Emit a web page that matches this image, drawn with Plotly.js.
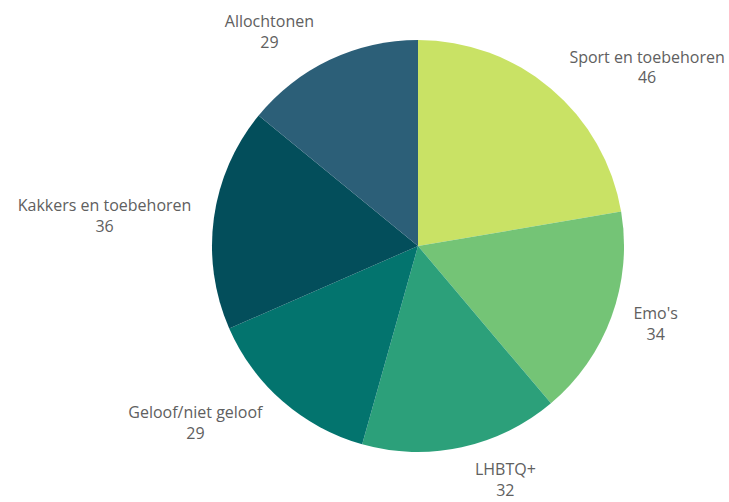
<!DOCTYPE html>
<html><head><meta charset="utf-8">
<script src="https://cdn.plot.ly/plotly-3.0.1.min.js"></script>
<style>html,body{margin:0;padding:0;background:#fff}</style>
</head><body>
<div id="chart" style="width:729px;height:502px"></div>
<script>
const categories = ["Sport en toebehoren", "Emo's", "LHBTQ+", "Geloof/niet geloof", "Kakkers en toebehoren", "Allochtonen"];
const values = [46, 34, 32, 29, 36, 29];
const colors = ["#c9e265", "#74c476", "#2ca07a", "#03746e", "#034e5b", "#2c5f78"];

const common = {
  type: "pie",
  labels: categories,
  values: values,
  sort: false,
  direction: "clockwise",
  rotation: 0,
  hoverinfo: "none",
  automargin: false,
  showlegend: false
};

Plotly.newPlot("chart", [
  Object.assign({}, common, {
    marker: {colors: colors, line: {width: 0}},
    textinfo: "none",
    domain: {x: [0.2908, 0.856], y: [0.0339, 0.9661]}
  }),
  Object.assign({}, common, {
    marker: {colors: categories.map(() => "rgba(0,0,0,0)"), line: {width: 0}},
    textposition: "outside",
    texttemplate: "%{label}<br>%{value}",
    outsidetextfont: {family: "Open Sans", size: 16, color: "#606060"},
    domain: {x: [0.2744, 0.8724], y: [0.0068, 0.9932]}
  })
], {
  width: 729, height: 502,
  margin: {l: 0, r: 0, t: 25, b: 35},
  showlegend: false,
  paper_bgcolor: "#fff",
  font: {family: "Open Sans", color: "#606060"}
}, {displayModeBar: false, staticPlot: true});
</script>
</body></html>
